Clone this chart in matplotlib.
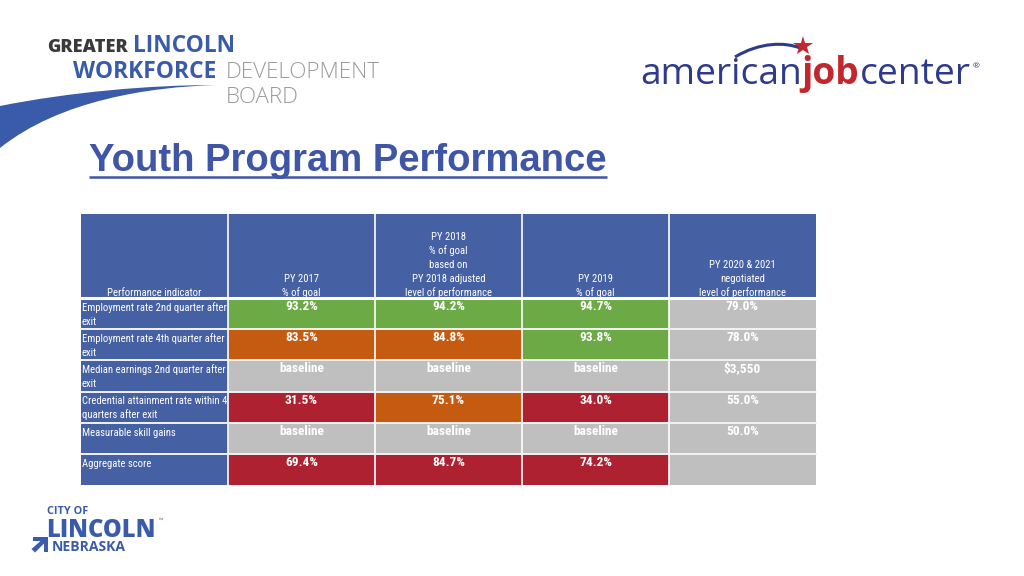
import matplotlib
matplotlib.use("Agg")
import matplotlib.pyplot as plt
from matplotlib.patches import Rectangle, Polygon, PathPatch
from matplotlib.path import Path
from matplotlib import font_manager as fm
import numpy as np

# ---------------- data ----------------
indicators = [
    ["Employment rate 2nd quarter after", "exit"],
    ["Employment rate 4th quarter after", "exit"],
    ["Median earnings 2nd quarter after", "exit"],
    ["Credential attainment rate within 4", "quarters after exit"],
    ["Measurable skill gains"],
    ["Aggregate score"],
]
headers = [
    ["Performance indicator"],
    ["PY 2017", "% of goal"],
    ["PY 2018", "% of goal", "based on", "PY 2018 adjusted", "level of performance"],
    ["PY 2019", "% of goal"],
    ["PY 2020 & 2021", "negotiated", "level of performance"],
]
py2017 = ["93.2%", "83.5%", "baseline", "31.5%", "baseline", "69.4%"]
py2018 = ["94.2%", "84.8%", "baseline", "75.1%", "baseline", "84.7%"]
py2019 = ["94.7%", "93.8%", "baseline", "34.0%", "baseline", "74.2%"]
py2020_21 = ["79.0%", "78.0%", "$3,550", "55.0%", "50.0%", ""]
status2017 = ["green", "orange", "grey", "red", "grey", "red"]
status2018 = ["green", "orange", "grey", "orange", "grey", "red"]
status2019 = ["green", "green", "grey", "red", "grey", "red"]
status2020_21 = ["grey", "grey", "grey", "grey", "grey", "grey"]

title = "Youth Program Performance"

# ---------------- style ----------------
COL = {"green": "#6BAA45", "orange": "#C55A11", "red": "#AD2131", "grey": "#BFBFBF"}
HEAD_BLUE = "#4560A3"
TITLE_BLUE = "#3F55A6"
LOGO_BLUE = "#3A5BA9"
AJC_BLUE = "#2E3A8C"
AJC_RED = "#C1272D"

fonts = fm.fontManager.ttflist
names = {f.name for f in fonts}
NARROW = None
NARROW_STRETCH = "normal"
for cand in ["Liberation Sans Narrow", "Arial Narrow", "Roboto Condensed",
             "Open Sans Condensed", "Noto Sans Condensed", "DejaVu Sans Condensed"]:
    if cand in names:
        NARROW = cand
        break
if NARROW is None:
    for f in fonts:
        st = str(f.stretch)
        if st in ("condensed", "semi-condensed", "extra-condensed") or st in ("300", "400", "200"):
            NARROW, NARROW_STRETCH = f.name, f.stretch
            break
if NARROW is None:
    NARROW = "Liberation Sans"
SANS = "Liberation Sans"
LOGO = "Open Sans" if "Open Sans" in names else "DejaVu Sans"

fig = plt.figure(figsize=(10.24, 5.76), dpi=100)
ax = fig.add_axes([0, 0, 1, 1])
ax.set_xlim(0, 1024)
ax.set_ylim(576, 0)
ax.axis("off")
renderer = fig.canvas.get_renderer()


def width_of(s, size, **kw):
    t = ax.text(0, 0, s, fontsize=size, **kw)
    w = t.get_window_extent(renderer).width
    t.remove()
    return w


def fit(s, width, **kw):
    return 10.0 * width / width_of(s, 10, **kw)


NK = dict(family=NARROW, stretch=NARROW_STRETCH)

# ---------------- title ----------------
tsize = fit(title, 518, family=SANS, weight="bold")
ax.text(89, 171, title, fontsize=tsize, family=SANS, weight="bold",
        color=TITLE_BLUE, ha="left", va="baseline")
ax.plot([89, 607], [177, 177], color=TITLE_BLUE, lw=1.8, solid_capstyle="butt")

# ---------------- table ----------------
x_edges = np.linspace(81, 816, 6)
head_top, head_bot = 214, 298
row_edges = np.linspace(head_bot, 485, 7)

longest = max((ln for lines in indicators for ln in lines),
              key=lambda s: width_of(s, 10, **NK))
reg_size = fit(longest, 143, **NK)
bold_size = fit("93.2%", 33, weight="bold", **NK)

for c in range(5):
    ax.add_patch(Rectangle((x_edges[c], head_top), x_edges[c + 1] - x_edges[c],
                           head_bot - head_top, facecolor=HEAD_BLUE, edgecolor="none"))
    lines = headers[c]
    n = len(lines)
    for i, ln in enumerate(lines):
        yb = 296 - (n - 1 - i) * 14
        ax.text((x_edges[c] + x_edges[c + 1]) / 2, yb, ln, fontsize=reg_size,
                color="white", ha="center", va="baseline", **NK)

values = [py2017, py2018, py2019, py2020_21]
statuses = [status2017, status2018, status2019, status2020_21]
for r in range(6):
    top = row_edges[r]
    h = row_edges[r + 1] - top
    ax.add_patch(Rectangle((x_edges[0], top), x_edges[1] - x_edges[0], h,
                           facecolor=HEAD_BLUE, edgecolor="none"))
    for i, ln in enumerate(indicators[r]):
        ax.text(x_edges[0] + 1, top + 13 + i * 14, ln, fontsize=reg_size,
                color="white", ha="left", va="baseline", **NK)
    for c in range(4):
        ax.add_patch(Rectangle((x_edges[c + 1], top), x_edges[c + 2] - x_edges[c + 1], h,
                               facecolor=COL[statuses[c][r]], edgecolor="none"))
        ax.text((x_edges[c + 1] + x_edges[c + 2]) / 2, top + 12, values[c][r],
                fontsize=bold_size, weight="bold", color="white",
                ha="center", va="baseline", **NK)

for x in x_edges[1:-1]:
    ax.plot([x, x], [head_top, 485], color="white", lw=1.2)
ax.plot([x_edges[0], x_edges[-1]], [head_bot, head_bot], color="white", lw=2.2)
for y in row_edges[1:-1]:
    ax.plot([x_edges[0], x_edges[-1]], [y, y], color="#F2F2F2", lw=1.4)

# ---------------- Greater Lincoln logo ----------------
sw = Path([(0, 106), (70, 92), (150, 85), (216, 85),
           (150, 87), (60, 100), (0, 148), (0, 106)],
          [Path.MOVETO, Path.CURVE4, Path.CURVE4, Path.CURVE4,
           Path.CURVE4, Path.CURVE4, Path.CURVE4, Path.CLOSEPOLY])
ax.add_patch(PathPatch(sw, facecolor=LOGO_BLUE, edgecolor="none"))

s = fit("GREATER", 81, family=LOGO, weight="heavy")
ax.text(47, 52, "GREATER", fontsize=s, family=LOGO, weight="heavy", color="#3A3A3A",
        va="baseline")
s = fit("LINCOLN", 102, family=LOGO, weight="bold")
ax.text(133, 52, "LINCOLN", fontsize=s, family=LOGO, weight="bold", color=LOGO_BLUE,
        va="baseline")
s = fit("WORKFORCE", 143, family=LOGO, weight="bold")
ax.text(73, 78, "WORKFORCE", fontsize=s, family=LOGO, weight="bold", color=LOGO_BLUE,
        va="baseline")
s = fit("DEVELOPMENT", 154, family=LOGO, weight="light")
ax.text(226, 78, "DEVELOPMENT", fontsize=s, family=LOGO, weight="light", color="#9A9A9A",
        va="baseline")
ax.text(226, 103, "BOARD", fontsize=s, family=LOGO, weight="light", color="#9A9A9A",
        va="baseline")

# ---------------- americanjobcenter logo ----------------
total = (width_of("american", 10, family=LOGO) + width_of("job", 10, family=LOGO, weight="bold")
         + width_of("center", 10, family=LOGO))
sa = 10.0 * 330 / total
x0 = 640
ax.text(x0, 84, "american", fontsize=sa, family=LOGO, color=AJC_BLUE, va="baseline")
x1 = x0 + width_of("american", sa, family=LOGO)
ax.text(x1, 84, "job", fontsize=sa, family=LOGO, weight="bold", color=AJC_RED,
        va="baseline")
x2 = x1 + width_of("job", sa, family=LOGO, weight="bold")
ax.text(x2, 84, "center", fontsize=sa, family=LOGO, color=AJC_BLUE, va="baseline")
x3 = x2 + width_of("center", sa, family=LOGO)
ax.text(x3 + 2, 68, "®", fontsize=6, family=LOGO, color=AJC_BLUE, va="baseline")
arc = Path([(735, 57), (760, 42), (785, 42), (800, 48)],
           [Path.MOVETO, Path.CURVE4, Path.CURVE4, Path.CURVE4])
ax.add_patch(PathPatch(arc, facecolor="none", edgecolor=AJC_BLUE, lw=2.2))
ax.plot([803], [46], marker="*", markersize=15, color=AJC_RED, markeredgewidth=0)

# ---------------- City of Lincoln logo ----------------
s = fit("CITY OF", 41, family=LOGO, weight="bold")
ax.text(47, 514, "CITY OF", fontsize=s, family=LOGO, weight="bold", color=LOGO_BLUE,
        va="baseline")
s = fit("LINCOLN", 110, family=LOGO, weight="heavy")
ax.text(46, 537, "LINCOLN", fontsize=s, family=LOGO, weight="heavy", color=LOGO_BLUE,
        va="baseline")
ax.text(159, 522, "™", fontsize=4, family=LOGO, color=LOGO_BLUE, va="baseline")
s = fit("NEBRASKA", 74, family=LOGO, weight="bold")
ax.text(52, 551, "NEBRASKA", fontsize=s, family=LOGO, weight="bold", color=LOGO_BLUE,
        va="baseline")
ax.add_patch(Polygon([(33, 537), (48, 537), (48, 552), (44, 552), (44, 543.5),
                      (35, 552.5), (31.5, 549), (40.5, 541), (33, 541)],
                     closed=True, facecolor=LOGO_BLUE, edgecolor="none"))

fig.savefig("out.png", dpi=100, facecolor="white")
